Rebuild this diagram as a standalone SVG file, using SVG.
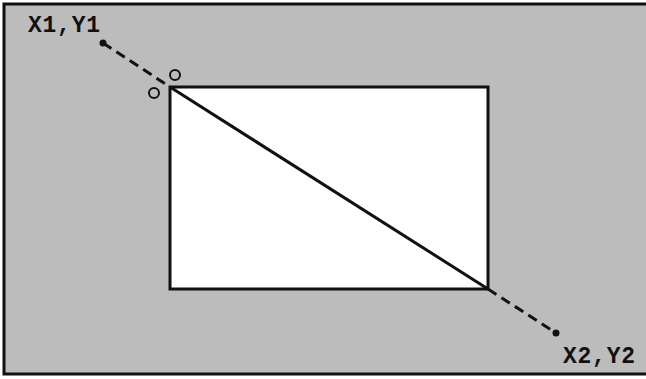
<svg xmlns="http://www.w3.org/2000/svg" width="646" height="379" viewBox="0 0 646 379">
<style>
.lbl{font-family:"Liberation Mono","Courier New",monospace;font-weight:bold;font-size:23px;fill:#111}
.dash{stroke:#111;stroke-width:3;stroke-dasharray:10,6;fill:none}
.solid{stroke:#111;stroke-width:3;fill:none}
.ring{stroke:#111;stroke-width:2;fill:none}
</style>
<rect id="bg" x="0" y="0" width="646" height="379" fill="#fff"/>
<g id="frame">
<rect x="4" y="4" width="645" height="370" fill="#bcbcbc" stroke="#111" stroke-width="3"/>
</g>
<g id="rect-node">
<rect x="170" y="87" width="318" height="202" fill="#fff" stroke="#111" stroke-width="3"/>
</g>
<g id="connectors">
<line class="dash" x1="103" y1="43" x2="170" y2="87"/>
<line class="solid" x1="170" y1="87" x2="488" y2="289"/>
<line class="dash" x1="488" y1="289" x2="556" y2="333"/>
<circle cx="103" cy="43" r="3.5" fill="#111"/>
<circle cx="556" cy="333" r="3.5" fill="#111"/>
</g>
<g id="markers">
<circle class="ring" cx="175" cy="75" r="5"/>
<circle class="ring" cx="154" cy="93" r="5"/>
</g>
<g id="labels">
<text class="lbl" x="28" y="32" textLength="72">X1,Y1</text>
<text class="lbl" x="563" y="363" textLength="72">X2,Y2</text>
</g>
</svg>
